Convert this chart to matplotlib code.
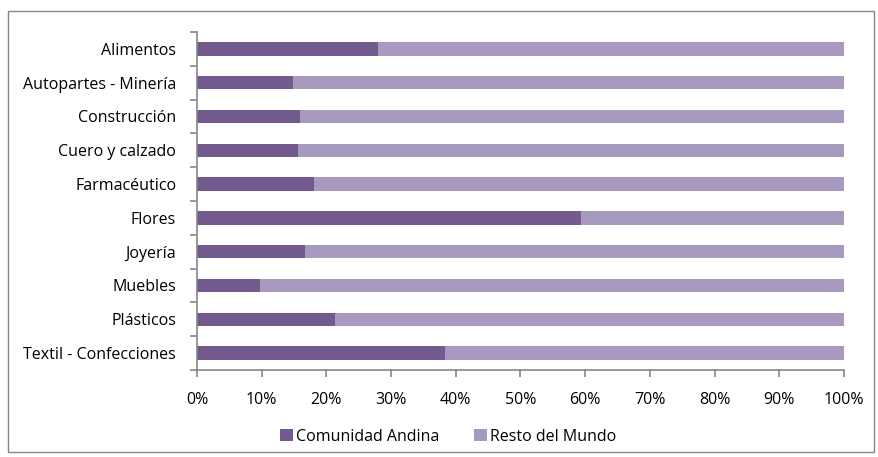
import numpy as np
import matplotlib.pyplot as plt
from matplotlib.patches import Rectangle
from matplotlib.ticker import PercentFormatter

sectores = ['Alimentos', 'Autopartes - Minería', 'Construcción', 'Cuero y calzado',
            'Farmacéutico', 'Flores', 'Joyería', 'Muebles', 'Plásticos',
            'Textil - Confecciones']
comunidad_andina = [28.0, 14.8, 15.9, 15.6, 18.1, 59.4, 16.7, 9.7, 21.3, 38.3]
resto_mundo = [100 - v for v in comunidad_andina]

plt.rcParams['font.family'] = ['Open Sans', 'DejaVu Sans']

fig = plt.figure(figsize=(8.79, 4.57), dpi=100)
ax = fig.add_axes([0.2241, 0.1904, 0.7361, 0.7396])

#borde exterior
fig.patches.append(Rectangle((8 / 879, 1 - 452 / 457), 866 / 879, 441 / 457,
                             transform=fig.transFigure, fill=False,
                             edgecolor='#868686', linewidth=1))

y = np.arange(len(sectores))
ax.barh(y, comunidad_andina, height=0.4, color='#725a8f', label='Comunidad Andina')
ax.barh(y, resto_mundo, left=comunidad_andina, height=0.4, color='#a899bf',
        label='Resto del Mundo')

ax.set_ylim(len(sectores) - 0.5, -0.5)
ax.set_xlim(0, 100)
ax.set_yticks(y)
ax.set_yticklabels(sectores, fontsize=11.5)
ax.set_yticks(np.arange(-0.5, len(sectores), 1), minor=True)
ax.tick_params(axis='y', which='major', length=0, pad=15)
ax.tick_params(axis='y', which='minor', length=5, color='#868686', width=1.2)
ax.set_xticks(np.arange(0, 101, 10))
ax.xaxis.set_major_formatter(PercentFormatter(decimals=0))
ax.tick_params(axis='x', length=5, color='#868686', width=1.2, labelsize=11.5, pad=11)

for s in ['top', 'right']:
    ax.spines[s].set_visible(False)
for s in ['left', 'bottom']:
    ax.spines[s].set_color('#868686')
    ax.spines[s].set_linewidth(1.2)

fig.legend(loc='center', bbox_to_anchor=(0.51, 0.044), ncol=2, frameon=False,
           fontsize=11.5, handlelength=0.8, handleheight=0.8, handletextpad=0.2,
           columnspacing=2.2)

plt.savefig('out.png', dpi=100)
